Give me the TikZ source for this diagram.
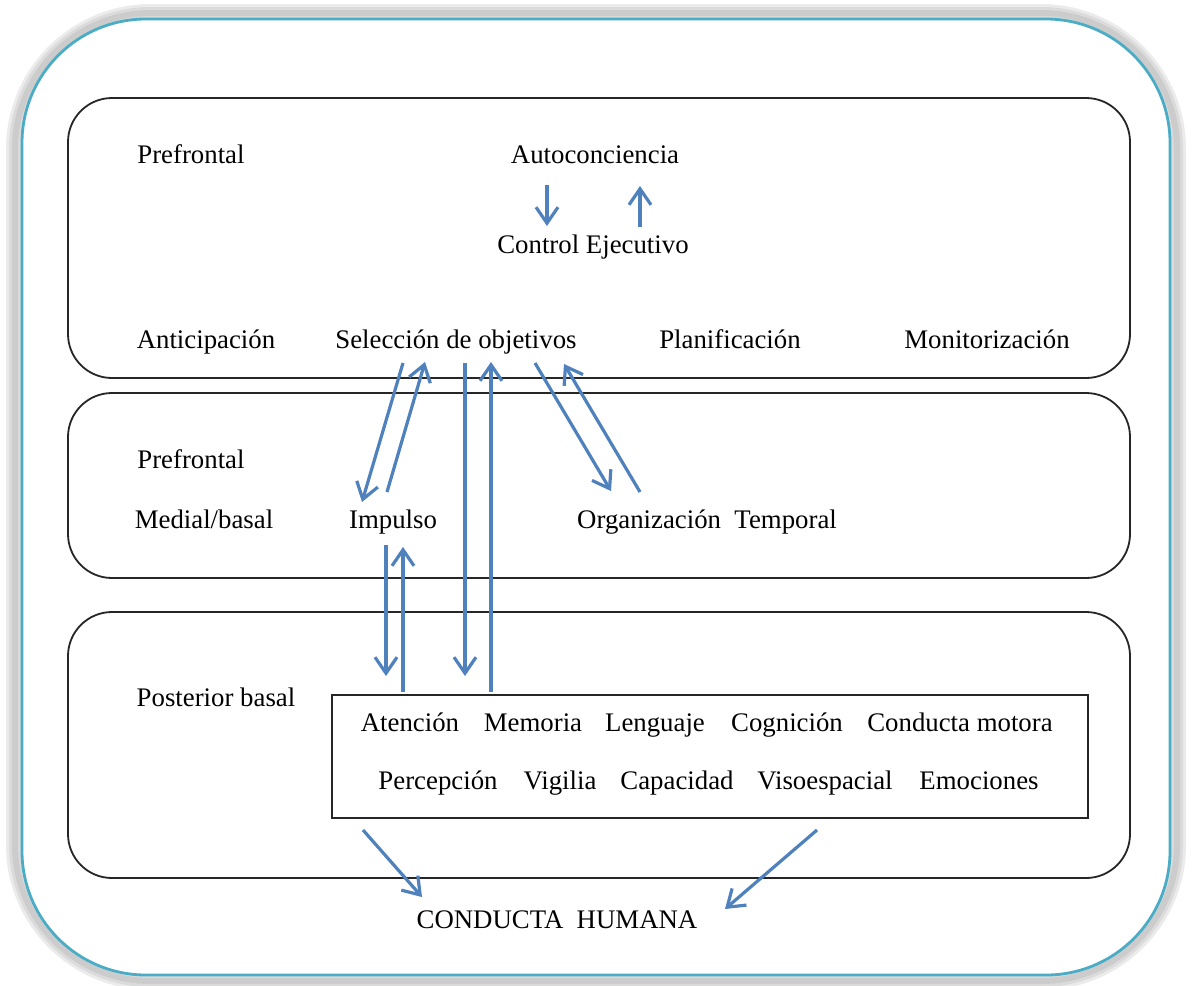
\documentclass[tikz,border=0pt]{standalone}
\usepackage{fontspec}
\setmainfont{Liberation Serif}
\usetikzlibrary{arrows.meta}
\definecolor{arrowblue}{HTML}{4F81BD}
\definecolor{frameblue}{HTML}{4BACC6}

\begin{document}
\begin{tikzpicture}[x=0.5pt,y=-0.5pt,
  lbl/.style={font=\fontsize{13.4}{15}\selectfont, inner sep=0pt, anchor=base},
  lvl/.style={draw=black!85, line width=0.9pt, rounded corners=22pt, rectangle,
              minimum width=531pt, inner sep=0pt},
  listbox/.style={draw=black!85, line width=0.9pt, rectangle, inner sep=0pt},
  bluearrow/.style={draw=arrowblue, line width=1.6pt,
    -{Straight Barb[length=8pt,width=11pt,line width=1.6pt]}},
]
\useasboundingbox (0,0) rectangle (1192,985);

% soft outer glow of the frame
\draw[black!8,  line width=9pt, rounded corners=68pt] (15,13) rectangle (1177,981);
\draw[black!14, line width=6pt, rounded corners=68pt] (15,13) rectangle (1177,981);
\draw[black!20, line width=3pt, rounded corners=68pt] (15,13) rectangle (1177,981);
% main frame
\draw[frameblue, fill=white, line width=1.4pt, rounded corners=62pt] (22,19) rectangle (1170,975);

% three levels
\node[lvl, minimum height=140pt]  (lvtop) at (599,238) {};
\node[lvl, minimum height=92.5pt] (lvmid) at (599,485.5) {};
\node[lvl, minimum height=133pt]  (lvbot) at (599,745) {};
\node[listbox, minimum width=378pt, minimum height=61.5pt] (funcs) at (710,756.5) {};

% top level texts
\node[lbl] (pf1)   at (191,163) {Prefrontal};
\node[lbl] (auto)  at (595,163) {Autoconciencia};
\node[lbl] (ctrl)  at (593,253) {Control Ejecutivo};
\node[lbl] (antic) at (206,348) {Anticipación};
\node[lbl] (selec) at (456,348) {Selección de objetivos};
\node[lbl] (plan)  at (730,348) {Planificación};
\node[lbl] (monit) at (987,348) {Monitorización};

% middle level texts
\node[lbl] (pf2)   at (191,468) {Prefrontal};
\node[lbl] (medial) at (204,528) {Medial/basal};
\node[lbl] (impul) at (393,528) {Impulso};
\node[lbl] (orgt)  at (707,528) {Organización\ \ Temporal};

% bottom level texts
\node[lbl] (post)  at (216,706) {Posterior basal};
\node[lbl] (aten)  at (410,731) {Atención};
\node[lbl] (memo)  at (533,731) {Memoria};
\node[lbl] (leng)  at (655,731) {Lenguaje};
\node[lbl] (cogn)  at (787,731) {Cognición};
\node[lbl] (cmot)  at (960,731) {Conducta motora};
\node[lbl] (perc)  at (438,789) {Percepción};
\node[lbl] (vigi)  at (560,789) {Vigilia};
\node[lbl] (capa)  at (677,789) {Capacidad};
\node[lbl] (viso)  at (825,789) {Visoespacial};
\node[lbl] (emoc)  at (979,789) {Emociones};

\node[lbl] (human) at (557,928) {CONDUCTA\ \ HUMANA};

% arrow end points
\coordinate (b1s) at (547,185); \coordinate (b1e) at (547,226);
\coordinate (b2s) at (640,227); \coordinate (b2e) at (640,186);
\coordinate (a1s) at (403,363); \coordinate (a1e) at (362,502);
\coordinate (a2s) at (387,492); \coordinate (a2e) at (425,362);
\coordinate (a3s) at (465,363); \coordinate (a3e) at (465,676);
\coordinate (a4s) at (491,692); \coordinate (a4e) at (491,362);
\coordinate (a5s) at (535,363); \coordinate (a5e) at (611,491);
\coordinate (a6s) at (640,492); \coordinate (a6e) at (564,364);
\coordinate (a7s) at (386,545); \coordinate (a7e) at (386,676);
\coordinate (a8s) at (403,692); \coordinate (a8e) at (403,547);
\coordinate (a9s) at (363,830); \coordinate (a9e) at (422,897);
\coordinate (a10s) at (817,830); \coordinate (a10e) at (725,909);

% connectors
\foreach \p in {b1,b2,a1,a2,a3,a4,a5,a6,a7,a8,a9,a10}
  \draw[bluearrow] (\p s) -- (\p e);
\end{tikzpicture}
\end{document}
